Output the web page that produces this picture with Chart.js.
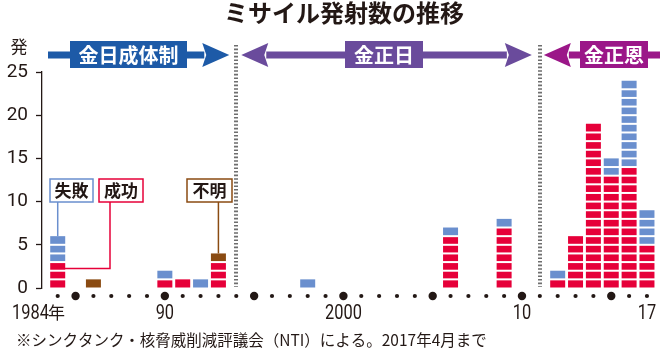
<!DOCTYPE html>
<html>
<head>
<meta charset="utf-8">
<script src="https://cdn.jsdelivr.net/npm/chart.js@4.4.1/dist/chart.umd.min.js"></script>
<style>
  html, body { margin: 0; padding: 0; background: #fff; }
</style>
</head>
<body>
<canvas id="chart" width="660" height="353"></canvas>
<script>
// data
const years = [1984, 1985, 1986, 1987, 1988, 1989, 1990, 1991, 1992, 1993,
               1994, 1995, 1996, 1997, 1998, 1999, 2000, 2001, 2002, 2003,
               2004, 2005, 2006, 2007, 2008, 2009, 2010, 2011, 2012, 2013,
               2014, 2015, 2016, 2017];
const success = [3, 0, 0, 0, 0, 0, 1, 1, 0, 3,
                 0, 0, 0, 0, 0, 0, 0, 0, 0, 0,
                 0, 0, 6, 0, 0, 7, 0, 0, 1, 6,
                 19, 13, 14, 5];
const failure = [3, 0, 0, 0, 0, 0, 1, 0, 1, 0,
                 0, 0, 0, 0, 1, 0, 0, 0, 0, 0,
                 0, 0, 1, 0, 0, 1, 0, 0, 1, 0,
                 0, 2, 10, 4];
const unknown = [0, 0, 1, 0, 0, 0, 0, 0, 0, 1,
                 0, 0, 0, 0, 0, 0, 0, 0, 0, 0,
                 0, 0, 0, 0, 0, 0, 0, 0, 0, 0,
                 0, 0, 0, 0];
const yTicks = [0, 5, 10, 15, 20, 25];
const xTickYears = [1984, 1990, 2000, 2010, 2017];
const xTickLabels = ['1984', '90', '2000', '10', '17'];
const bigDotYears = [1985, 1990, 1995, 2000, 2005, 2010, 2015];
const eraBreaks = [1994, 2011];
const eraNames = ['金日成体制', '金正日', '金正恩'];

const RED = '#e60039';
const BLUE = '#6a8fce';
const BROWN = '#8a4b12';
const INK = '#231815';
const JP = '"Noto Sans CJK JP", "Noto Sans", sans-serif';

function pts(arr) {
  return years.map((yr, i) => ({ x: yr, y: arr[i] }));
}

function arrow(ctx, x1, x2, y, color, headL, headR) {
  const hl = 27, hh = 12, sw = 7;
  ctx.fillStyle = color;
  ctx.fillRect(x1 + (headL ? hl - 2 : 0), y - sw / 2, (x2 - x1) - (headL ? hl - 2 : 0) - (headR ? hl - 2 : 0), sw);
  if (headR) {
    ctx.beginPath();
    ctx.moveTo(x2, y);
    ctx.lineTo(x2 - hl, y - hh);
    ctx.lineTo(x2 - hl + 4, y);
    ctx.lineTo(x2 - hl, y + hh);
    ctx.closePath();
    ctx.fill();
  }
  if (headL) {
    ctx.beginPath();
    ctx.moveTo(x1, y);
    ctx.lineTo(x1 + hl, y - hh);
    ctx.lineTo(x1 + hl - 4, y);
    ctx.lineTo(x1 + hl, y + hh);
    ctx.closePath();
    ctx.fill();
  }
}

function labelBox(ctx, x1, x2, text, color) {
  ctx.fillStyle = color;
  ctx.fillRect(x1, 41, x2 - x1, 27);
  ctx.fillStyle = '#fff';
  ctx.font = 'bold 20px ' + JP;
  ctx.textAlign = 'center';
  ctx.textBaseline = 'middle';
  ctx.fillText(text, (x1 + x2) / 2, 55);
}

function noteBox(ctx, x1, x2, text, color) {
  ctx.fillStyle = '#fff';
  ctx.fillRect(x1, 179, x2 - x1, 23);
  ctx.strokeStyle = color;
  ctx.lineWidth = 1.5;
  ctx.strokeRect(x1, 179, x2 - x1, 23);
  ctx.fillStyle = INK;
  ctx.font = 'bold 17px ' + JP;
  ctx.textAlign = 'center';
  ctx.textBaseline = 'middle';
  ctx.fillText(text, (x1 + x2) / 2, 191);
}

// condensed numerals: squeeze Roboto horizontally
function narrowText(ctx, text, x, y, align) {
  ctx.save();
  ctx.font = '20px Roboto, sans-serif';
  ctx.textAlign = align;
  ctx.textBaseline = 'middle';
  ctx.translate(x, y);
  ctx.scale(0.82, 1);
  ctx.fillText(text, 0, 0);
  ctx.restore();
}

const decor = {
  id: 'decor',
  beforeDatasetsDraw(chart) {
    const ctx = chart.ctx;
    const xs = chart.scales.x;
    ctx.save();
    // era separators (dotted)
    ctx.strokeStyle = '#6e6e6e';
    ctx.lineWidth = 4;
    ctx.setLineDash([1.6, 2]);
    eraBreaks.forEach(yr => {
      const px = Math.round(xs.getPixelForValue(yr));
      ctx.beginPath();
      ctx.moveTo(px, 45);
      ctx.lineTo(px, 287);
      ctx.stroke();
    });
    ctx.restore();
  },
  afterDatasetsDraw(chart) {
    const ctx = chart.ctx;
    const ys = chart.scales.y;
    const meta0 = chart.getDatasetMeta(0);
    ctx.save();
    ctx.fillStyle = '#fff';
    years.forEach((yr, i) => {
      const total = success[i] + failure[i] + unknown[i];
      const bar = meta0.data[i];
      const w = bar.width;
      for (let k = 1; k < total; k++) {
        const py = ys.getPixelForValue(k);
        ctx.fillRect(bar.x - w / 2 - 1, py - 1, w + 2, 2);
      }
    });
    ctx.restore();
  },
  afterDraw(chart) {
    const ctx = chart.ctx;
    const xs = chart.scales.x;
    const ys = chart.scales.y;
    ctx.save();

    // title
    ctx.fillStyle = INK;
    ctx.font = 'bold 24px ' + JP;
    ctx.textAlign = 'left';
    ctx.textBaseline = 'middle';
    ctx.fillText('ミサイル発射数の推移', 224, 13);

    // unit
    ctx.font = '17px ' + JP;
    ctx.textAlign = 'center';
    ctx.fillText('発', 19, 47);

    // era arrows
    const b1 = xs.getPixelForValue(eraBreaks[0]);
    const b2 = xs.getPixelForValue(eraBreaks[1]);
    arrow(ctx, 48, b1 - 7, 55, '#1d5aa7', false, true);
    labelBox(ctx, 70, 187, eraNames[0], '#1d5aa7');
    arrow(ctx, b1 + 5, b2 - 8, 55, '#6a4b9c', true, true);
    labelBox(ctx, 345, 423, eraNames[1], '#6a4b9c');
    arrow(ctx, b2 + 4, 662, 55, '#9b1788', true, false);
    labelBox(ctx, 580, 648, eraNames[2], '#9b1788');

    // year dots
    ctx.fillStyle = INK;
    years.forEach(yr => {
      const r = bigDotYears.includes(yr) ? 4.2 : 2.1;
      ctx.beginPath();
      ctx.arc(xs.getPixelForValue(yr), 296, r, 0, Math.PI * 2);
      ctx.fill();
    });

    // year labels
    xTickYears.forEach((yr, i) => {
      const px = xs.getPixelForValue(yr);
      if (i === 0) {
        narrowText(ctx, xTickLabels[0], 12, 314, 'left');
        ctx.font = '17px ' + JP;
        ctx.textAlign = 'left';
        ctx.textBaseline = 'middle';
        ctx.fillText('年', 48, 313);
      } else {
        narrowText(ctx, xTickLabels[i], px, 314, 'center');
      }
    });

    // annotation: 失敗 / 成功 / 不明
    const x84 = xs.getPixelForValue(1984);
    const x93 = xs.getPixelForValue(1993);
    ctx.lineWidth = 1.5;
    ctx.strokeStyle = BLUE;
    ctx.beginPath();
    ctx.moveTo(x84, 202);
    ctx.lineTo(x84, ys.getPixelForValue(success[0] + failure[0]));
    ctx.stroke();
    ctx.strokeStyle = RED;
    ctx.beginPath();
    ctx.moveTo(110, 202);
    ctx.lineTo(110, ys.getPixelForValue(2.25));
    ctx.lineTo(x84 + 7, ys.getPixelForValue(2.25));
    ctx.stroke();
    ctx.strokeStyle = BROWN;
    ctx.beginPath();
    ctx.moveTo(x93, 202);
    ctx.lineTo(x93, ys.getPixelForValue(success[9] + unknown[9]));
    ctx.stroke();
    noteBox(ctx, 50, 93, '失敗', BLUE);
    noteBox(ctx, 99, 143, '成功', RED);
    noteBox(ctx, 187, 232, '不明', BROWN);

    // source note
    ctx.fillStyle = INK;
    ctx.font = '15.5px ' + JP;
    ctx.textAlign = 'left';
    ctx.textBaseline = 'middle';
    ctx.fillText('※シンクタンク・核脅威削減評議会（NTI）による。2017年4月まで', 16, 340);

    ctx.restore();
  }
};

new Chart(document.getElementById('chart'), {
  type: 'bar',
  data: {
    datasets: [
      { label: '成功', data: pts(success), backgroundColor: RED, borderWidth: 0 },
      { label: '失敗', data: pts(failure), backgroundColor: BLUE, borderWidth: 0 },
      { label: '不明', data: pts(unknown), backgroundColor: BROWN, borderWidth: 0 }
    ]
  },
  options: {
    responsive: false,
    animation: false,
    devicePixelRatio: 1,
    layout: { padding: { top: 72, bottom: 65, left: 0, right: 0 } },
    datasets: { bar: { barPercentage: 0.84, categoryPercentage: 1 } },
    plugins: { legend: { display: false }, tooltip: { enabled: false } },
    scales: {
      x: {
        type: 'linear',
        min: 1983.12,
        max: 2017.73,
        offset: false,
        bounds: 'ticks',
        stacked: true,
        display: false
      },
      y: {
        stacked: true,
        min: 0,
        max: 25,
        afterFit(scale) { scale.width = 42; },
        afterBuildTicks(scale) { scale.ticks = yTicks.map(v => ({ value: v })); },
        ticks: {
          color: INK,
          padding: 8,
          font: { family: 'Roboto', size: 19 }
        },
        grid: {
          drawOnChartArea: false,
          tickLength: 6,
          tickColor: INK,
          tickWidth: 1.3
        },
        border: { color: INK, width: 1.3 }
      }
    }
  },
  plugins: [decor]
});
</script>
</body>
</html>
